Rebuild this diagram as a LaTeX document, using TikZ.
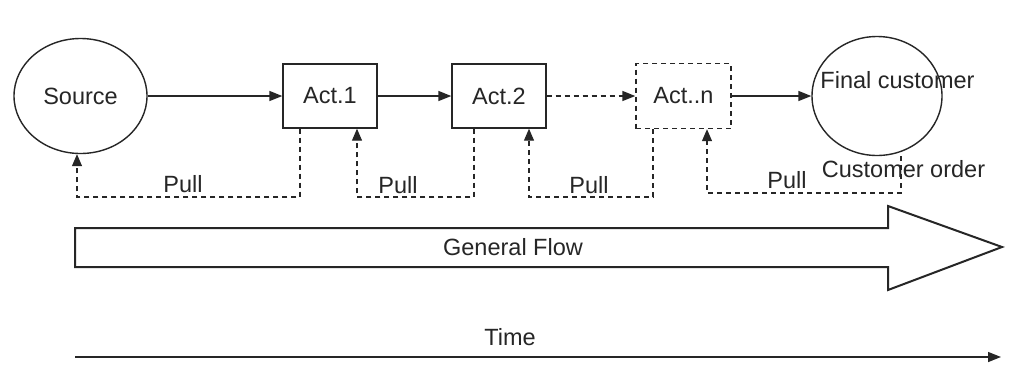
\documentclass[tikz,border=0pt]{standalone}
\usepackage{fontspec}
\setmainfont{Liberation Sans}
\usetikzlibrary{arrows.meta,shapes.geometric}
\begin{document}
\begin{tikzpicture}[x=1pt,y=-1pt,
  every node/.style={font=\fontsize{23.5}{28}\selectfont, text=black!85},
  line/.style={draw=black!85, line width=1.4pt},
  tip/.style={-{Triangle[length=13pt,width=10pt]}},
  dsh/.style={dash pattern=on 5pt off 4pt},
  pullline/.style={draw=black!85, line width=1.2pt, dash pattern=on 5pt off 4pt, -{Triangle[length=12pt,width=10pt]}},
  boxnode/.style={line, rectangle, minimum width=94pt, minimum height=64pt, inner sep=0pt},
  ovalnode/.style={line, ellipse, inner sep=0pt},
  lbl/.style={anchor=base, inner sep=0pt},
]
\useasboundingbox[fill=white] (0,0) rectangle (1017,365);

% main nodes
\node[ovalnode, minimum width=133pt, minimum height=115pt] (source) at (80.5,96) {Source};
\node[boxnode] (act1) at (330,96) {Act.1};
\node[boxnode] (act2) at (499,96) {Act.2};
\node[boxnode, dsh, minimum width=95pt, minimum height=65pt] (actn) at (683.5,96) {Act..n};
\node[ovalnode, minimum width=130pt, minimum height=119pt] (final) at (877,96) {};
\node[lbl] (finaltxt) at (897.5,88) {Final customer};

% forward connectors
\draw[line,tip] (source.east) -- (act1.west);
\draw[line,tip] (act1.east) -- (act2.west);
\draw[line,tip,dsh] (act2.east) -- (actn.west);
\draw[line,tip] (actn.east) -- (final.west);

% pull loops
\coordinate (l1a) at (300,197); \coordinate (l1b) at (77,197);
\coordinate (l2a) at (474,197); \coordinate (l2b) at (357,197);
\coordinate (l3a) at (653,197); \coordinate (l3b) at (529,197);
\coordinate (l4a) at (901,193); \coordinate (l4b) at (707,193);

\draw[pullline] (act1.south -| l1a) -- (l1a) -- (l1b) -- (source.south -| l1b);
\draw[pullline] (act2.south -| l2a) -- (l2a) -- (l2b) -- (act1.south -| l2b);
\draw[pullline] (actn.south -| l3a) -- (l3a) -- (l3b) -- (act2.south -| l3b);
\draw[pullline] ([xshift=24pt]final.south) -- (l4a) -- (l4b) -- (actn.south -| l4b);

\node[lbl] (pull1) at (183,192) {Pull};
\node[lbl] (pull2) at (398,193) {Pull};
\node[lbl] (pull3) at (589,193) {Pull};
\node[lbl] (pull4) at (787,188) {Pull};
\node[lbl] (order) at (903.5,177) {Customer order};

% general flow arrow
\draw[draw=black!85, line width=2pt, fill=white, line join=miter]
  (75,228) -- (888,228) -- (888,206) -- (1002,247) -- (888,290) -- (888,267) -- (75,267) -- cycle;
\node[lbl] (flowtxt) at (513,255) {General Flow};

% time axis
\coordinate (t0) at (75,357);
\coordinate (t1) at (1001,357);
\draw[line,tip] (t0) -- (t1);
\node[lbl] (time) at (510,345) {Time};
\end{tikzpicture}
\end{document}
